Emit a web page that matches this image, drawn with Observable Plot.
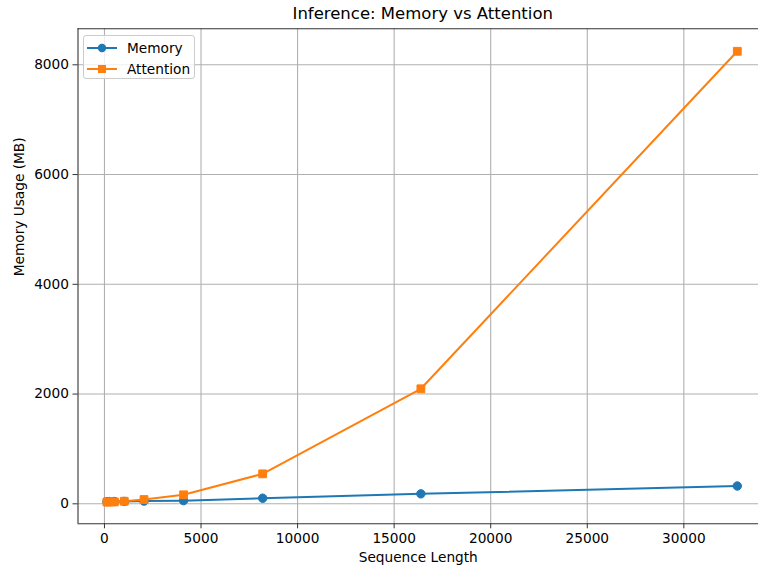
<!DOCTYPE html>
<html>
<head>
<meta charset="utf-8">
<script src="https://cdn.jsdelivr.net/npm/d3@7"></script>
<script src="https://cdn.jsdelivr.net/npm/@observablehq/plot@0.6"></script>
<style>
  html, body { margin: 0; padding: 0; background: #fff; overflow: hidden; }
  body { font-family: "DejaVu Sans", sans-serif; color: #000; }
  #wrap { position: relative; width: 758px; height: 566px; }
  #title { box-sizing: border-box; height: 22px; padding-top: 5.8px; line-height: 16.5px;
           font-size: 16.5px; margin-left: 77.5px; width: 690.5px; text-align: center; white-space: nowrap; }
  #legend { position: absolute; left: 83px; top: 35px; width: 112px; height: 44px; box-sizing: border-box;
            border: 1px solid #cccccc; border-radius: 3px; background: rgba(255,255,255,0.8); }
  .entry { position: absolute; left: 3px; height: 20px; display: flex; align-items: center; font-size: 13.7px; }
  .entry svg { display: block; margin-right: 10px; }
</style>
</head>
<body>
<div id="wrap">
  <div id="title">Inference: Memory vs Attention</div>
  <div id="chart"></div>
  <div id="legend"></div>
</div>
<script>
const seqLen = [128, 256, 512, 1024, 2048, 4096, 8192, 16384, 32768];
const memoryMB = [40, 41, 42, 44, 50, 58, 102, 182, 325];
const attentionMB = [33, 33, 35, 47, 78, 164, 546, 2096, 8246];
const seriesNames = ["Memory", "Attention"];
const seriesColors = ["#1f77b4", "#ff7f0e"];
const seriesSymbols = ["circle", "square"];
const xTicks = [0, 5000, 10000, 15000, 20000, 25000, 30000];
const yTicks = [0, 2000, 4000, 6000, 8000];
const xLabel = "Sequence Length";
const yLabel = "Memory Usage (MB)";

const seriesValues = [memoryMB, attentionMB];
const rows = seriesNames.map((name, i) => seqLen.map((s, j) => ({series: name, x: s, y: seriesValues[i][j]})));

const xDomain = [-1370, 33866];
const yDomain = [-364, 8656];
const axisColor = "#333";
const fontSize = 13.7;

const marks = [
  Plot.gridX(xTicks, {stroke: "#b0b0b0", strokeOpacity: 1, strokeWidth: 1.1}),
  Plot.gridY(yTicks, {stroke: "#b0b0b0", strokeOpacity: 1, strokeWidth: 1.1}),
  Plot.ruleX([xDomain[0]], {stroke: axisColor, strokeWidth: 1.1}),
  Plot.ruleY([yDomain[0], yDomain[1]], {stroke: axisColor, strokeWidth: 1.1}),
  Plot.axisX(xTicks, {tickSize: 5, tickPadding: 4, fontSize, stroke: axisColor, label: null, tickFormat: d => String(d)}),
  Plot.axisY(yTicks, {tickSize: 5, tickPadding: 4, fontSize, stroke: axisColor, label: null, tickFormat: d => String(d)}),
  Plot.text([xLabel], {frameAnchor: "bottom", dy: 34, lineAnchor: "middle", fontSize}),
  Plot.text([yLabel], {frameAnchor: "left", dx: -58.5, rotate: -90, lineAnchor: "middle", fontSize})
];
rows.forEach((data, i) => {
  marks.push(Plot.line(data, {x: "x", y: "y", stroke: seriesColors[i], strokeWidth: 2}));
  marks.push(Plot.dot(data, {x: "x", y: "y", symbol: () => seriesSymbols[i], fill: seriesColors[i], stroke: seriesColors[i],
    strokeWidth: 1, r: seriesSymbols[i] === "square" ? 4.4 : 4.2}));
});

const chart = Plot.plot({
  width: 758,
  height: 544,
  marginLeft: 77.5,
  marginRight: 0,
  marginTop: 6.3,
  marginBottom: 42.7,
  style: {fontFamily: "DejaVu Sans", fontSize: fontSize + "px", background: "#fff", color: "#000"},
  x: {type: "linear", domain: xDomain},
  y: {type: "linear", domain: yDomain},
  symbol: {type: "identity"},
  marks
});
document.getElementById("chart").appendChild(chart);

// legend
const legend = document.getElementById("legend");
seriesNames.forEach((name, i) => {
  const e = document.createElement("div");
  e.className = "entry";
  e.style.top = (1.5 + i * 21.5) + "px";
  const sym = seriesSymbols[i] === "circle"
    ? `<circle cx="15" cy="6" r="4.2" fill="${seriesColors[i]}"/>`
    : `<rect x="11" y="2" width="8" height="8" fill="${seriesColors[i]}"/>`;
  e.innerHTML = `<svg width="30" height="12"><line x1="0" x2="30" y1="6" y2="6" stroke="${seriesColors[i]}" stroke-width="2"/>${sym}</svg><span>${name}</span>`;
  legend.appendChild(e);
});
</script>
</body>
</html>
